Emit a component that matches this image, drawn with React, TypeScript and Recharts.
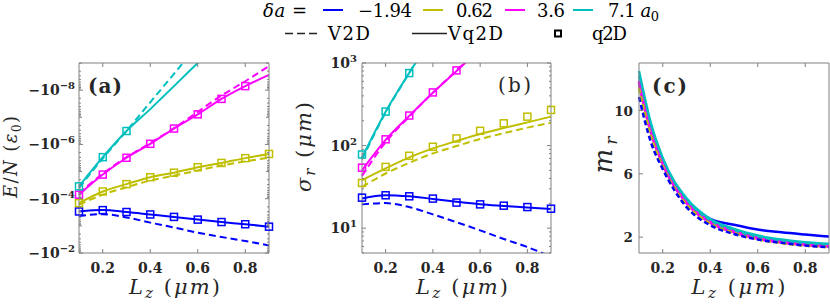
import React from 'react';
import { LineChart, Line, XAxis, YAxis } from 'recharts';

const BLUE = '#0000FF';
const YEL = '#BFBF00';
const MAG = '#FF00FF';
const CYA = '#00BFBF';
const AX = '#808080';
const TXT = '#262626';

// Lz (um)
const LZ = [0.1, 0.2, 0.3, 0.4, 0.5, 0.6, 0.7, 0.8, 0.9];
const LZ_C = [0.1, 0.15, 0.2, 0.3, 0.4, 0.5, 0.6, 0.7, 0.8, 0.9];
const X_TICKS = [0.2, 0.4, 0.6, 0.8];
const X_TICK_LABELS = ['0.2', '0.4', '0.6', '0.8'];

// (a) E/N (eps0)
const A_BLUE_V2D = [-4.3e-4, -3.7e-4, -4.9e-4, -7.6e-4, -1.15e-3, -1.78e-3, -2.57e-3, -3.63e-3, -5.25e-3];
const A_BLUE_VQ2D = [-2.95e-4, -2.63e-4, -3.09e-4, -3.8e-4, -4.68e-4, -5.89e-4, -7.24e-4, -8.71e-4, -1.07e-3];
const A_BLUE_Q2D = [-2.95e-4, -2.63e-4, -3.09e-4, -3.8e-4, -4.68e-4, -5.89e-4, -7.24e-4, -8.71e-4, -1.07e-3];
const A_YEL_V2D = [-1.66e-4, -7.1e-5, -3.8e-5, -2.14e-5, -1.41e-5, -9.1e-6, -6.0e-6, -4.2e-6, -3.1e-6];
const A_YEL_VQ2D = [-1.45e-4, -5.4e-5, -2.9e-5, -1.62e-5, -1.1e-5, -6.9e-6, -4.8e-6, -3.2e-6, -2.24e-6];
const A_YEL_Q2D = [-1.45e-4, -5.4e-5, -2.9e-5, -1.62e-5, -1.1e-5, -6.9e-6, -4.8e-6, -3.2e-6, -2.24e-6];
const A_MAG_V2D = [-6.3e-5, -1.2e-5, -2.95e-6, -8.9e-7, -2.5e-7, -6.3e-8, -1.58e-8, -4.7e-9, -1.29e-9];
const A_MAG_VQ2D = [-7.1e-5, -1.29e-5, -3.1e-6, -9.5e-7, -2.6e-7, -7.8e-8, -2.1e-8, -7.1e-9, -2.75e-9];
const A_MAG_Q2D = [-7.1e-5, -1.29e-5, -3.1e-6, -9.5e-7, -2.6e-7, -7.8e-8, -2.1e-8, -7.1e-9, null];
const A_CYA_V2D = [-4.0e-5, -3.3e-6, -3.2e-7, -2.8e-8, -2.5e-9, -2.2e-10, null, null, null];
const A_CYA_VQ2D = [-3.5e-5, -2.95e-6, -3.2e-7, -5.0e-8, -7.1e-9, -1.0e-9, -1.6e-10, null, null];
const A_CYA_Q2D = [-3.5e-5, -2.95e-6, -3.2e-7, null, null, null, null, null, null];
const A_Y_TICKS = [1e-8, 1e-6, 1e-4, 1e-2];
const A_Y_TICK_EXP = ['\u22128', '\u22126', '\u22124', '\u22122'];
const A_DECADES = [1e-9, 1e-8, 1e-7, 1e-6, 1e-5, 1e-4, 1e-3, 1e-2];

// (b) sigma_r (um)
const B_BLUE_V2D = [19.4, 20.1, 18.0, 14.7, 11.8, 9.4, 7.4, 5.9, 4.5];
const B_BLUE_VQ2D = [22.9, 25.1, 24.3, 22.6, 20.9, 19.5, 18.6, 17.8, 17.0];
const B_BLUE_Q2D = [23.4, 25.0, 24.3, 22.8, 20.4, 19.4, 18.7, 18.0, 17.2];
const B_YEL_V2D = [31.6, 45.9, 61.8, 80.4, 98.6, 120, 141, 165, 189];
const B_YEL_VQ2D = [38, 52.8, 71.8, 92.5, 113.5, 138, 163, 191, 224];
const B_YEL_Q2D = [35.3, 55.2, 75.2, 96.8, 122, 151, 186, 224, 270];
const B_MAG_V2D = [43, 110, 224, 437, 813, 1510, null, null, null];
const B_MAG_VQ2D = [50, 117, 229, 437, 800, 1480, null, null, null];
const B_MAG_Q2D = [54, 119, 231, 440, 813, null, null, null, null];
const B_CYA_V2D = [68, 251, 759, 2240, null, null, null, null, null];
const B_CYA_VQ2D = [72, 257, 759, 2090, null, null, null, null, null];
const B_CYA_Q2D = [78, 258, 755, null, null, null, null, null, null];
const B_Y_TICKS = [10, 100, 1000];
const B_Y_TICK_EXP = ['1', '2', '3'];
const B_DECADES = [1, 10, 100, 1000];

// (c) m_r
const C_BLUE_V2D = [10.85, 8.0, 6.3, 3.9, 2.75, 2.2, 1.85, 1.64, 1.47, 1.37];
const C_BLUE_VQ2D = [11.8, 8.7, 6.7, 4.2, 3.15, 2.78, 2.48, 2.31, 2.17, 2.04];
const C_YEL_V2D = [11.4, 8.4, 6.45, 4.05, 2.85, 2.26, 1.86, 1.62, 1.46, 1.37];
const C_YEL_VQ2D = [11.6, 8.6, 6.6, 4.2, 2.95, 2.35, 1.95, 1.7, 1.52, 1.42];
const C_MAG_V2D = [11.7, 8.6, 6.6, 4.15, 2.9, 2.3, 1.9, 1.66, 1.5, 1.4];
const C_MAG_VQ2D = [11.9, 8.8, 6.8, 4.3, 3.0, 2.4, 1.98, 1.74, 1.56, 1.46];
const C_CYA_V2D = [12.2, 9.0, 6.85, 4.35, 3.05, 2.44, 2.02, 1.78, 1.62, 1.52];
const C_CYA_VQ2D = [12.5, 9.2, 7.0, 4.45, 3.15, 2.52, 2.1, 1.85, 1.68, 1.58];
const C_Y_TICKS = [2, 6, 10];
const C_Y_TICK_LABELS = ['2', '6', '10'];

// legend
const DELTA_A = ['\u22121.94', '0.62', '3.6', '7.1'];
const DELTA_COLORS = [BLUE, YEL, MAG, CYA];

const SERIF = "'DejaVu Serif', serif";
const TICK_FONT: any = { fontFamily: SERIF, fontWeight: 700, fontSize: 14, fill: TXT };

const neg = (v: number | null) => (v == null ? null : -v);

function withMinors(decades: number[], lo: number, hi: number) {
  const out: number[] = [];
  decades.forEach((d) => {
    if (d >= lo && d <= hi) out.push(d);
    for (let m = 2; m <= 9; m++) {
      const v = m * d;
      if (v >= lo && v <= hi) out.push(v);
    }
  });
  return out.sort((p, q) => p - q);
}

const A_TICKS_ALL = withMinors(A_DECADES, 1e-9, 1e-2);
const B_TICKS_ALL = withMinors(B_DECADES, 5, 1000);

const rowsA = LZ.map((lz, i) => ({
  lz,
  bD: neg(A_BLUE_V2D[i]), bS: neg(A_BLUE_VQ2D[i]), bQ: neg(A_BLUE_Q2D[i]),
  yD: neg(A_YEL_V2D[i]), yS: neg(A_YEL_VQ2D[i]), yQ: neg(A_YEL_Q2D[i]),
  mD: neg(A_MAG_V2D[i]), mS: neg(A_MAG_VQ2D[i]), mQ: neg(A_MAG_Q2D[i]),
  cD: neg(A_CYA_V2D[i]), cS: neg(A_CYA_VQ2D[i]), cQ: neg(A_CYA_Q2D[i]),
}));

const rowsB = LZ.map((lz, i) => ({
  lz,
  bD: B_BLUE_V2D[i], bS: B_BLUE_VQ2D[i], bQ: B_BLUE_Q2D[i],
  yD: B_YEL_V2D[i], yS: B_YEL_VQ2D[i], yQ: B_YEL_Q2D[i],
  mD: B_MAG_V2D[i], mS: B_MAG_VQ2D[i], mQ: B_MAG_Q2D[i],
  cD: B_CYA_V2D[i], cS: B_CYA_VQ2D[i], cQ: B_CYA_Q2D[i],
}));

const rowsC = LZ_C.map((lz, i) => ({
  lz,
  bD: C_BLUE_V2D[i], bS: C_BLUE_VQ2D[i],
  yD: C_YEL_V2D[i], yS: C_YEL_VQ2D[i],
  mD: C_MAG_V2D[i], mS: C_MAG_VQ2D[i],
  cD: C_CYA_V2D[i], cS: C_CYA_VQ2D[i],
}));

const SERIES_AB = [
  { key: 'bD', color: BLUE, kind: 'dash' }, { key: 'bS', color: BLUE, kind: 'solid' }, { key: 'bQ', color: BLUE, kind: 'sq' },
  { key: 'yD', color: YEL, kind: 'dash' }, { key: 'yS', color: YEL, kind: 'solid' }, { key: 'yQ', color: YEL, kind: 'sq' },
  { key: 'mD', color: MAG, kind: 'dash' }, { key: 'mS', color: MAG, kind: 'solid' }, { key: 'mQ', color: MAG, kind: 'sq' },
  { key: 'cD', color: CYA, kind: 'dash' }, { key: 'cS', color: CYA, kind: 'solid' }, { key: 'cQ', color: CYA, kind: 'sq' },
];

const SERIES_C = [
  { key: 'bS', color: BLUE, kind: 'solid' }, { key: 'yS', color: YEL, kind: 'solid' },
  { key: 'mS', color: MAG, kind: 'solid' }, { key: 'cS', color: CYA, kind: 'solid' },
  { key: 'cD', color: CYA, kind: 'dash' }, { key: 'mD', color: MAG, kind: 'dash' },
  { key: 'yD', color: YEL, kind: 'dash' }, { key: 'bD', color: BLUE, kind: 'dash' },
];

const squareDot = (color: string) => (p: any) => {
  if (p.cx == null || p.cy == null || p.value == null || Number.isNaN(p.cy)) {
    return <g key={`e${p.index}`} />;
  }
  return (
    <rect key={`s${p.index}`} x={p.cx - 3.5} y={p.cy - 3.5} width={7} height={7}
      fill="none" stroke={color} strokeWidth={1.5} />
  );
};

function renderSeries(series: any[], lineWidth: number, dash: string) {
  return series.map((s) =>
    s.kind === 'sq' ? (
      <Line key={s.key} xAxisId="B" yAxisId="R" dataKey={s.key} stroke="none"
        dot={squareDot(s.color)} activeDot={false} isAnimationActive={false} legendType="none" />
    ) : (
      <Line key={s.key} xAxisId="B" yAxisId="L" type="monotone" dataKey={s.key}
        stroke={s.color} strokeWidth={lineWidth}
        strokeDasharray={s.kind === 'dash' ? dash : undefined}
        dot={false} activeDot={false} isAnimationActive={false} connectNulls={false} />
    )
  );
}

const bottomTick = (p: any) => {
  const idx = X_TICKS.indexOf(p.payload.value);
  return (
    <g>
      <line x1={p.x} y1={p.y} x2={p.x} y2={p.y - 4} stroke={AX} strokeWidth={1} />
      <text x={p.x} y={p.y + 20} textAnchor="middle" {...TICK_FONT}>{X_TICK_LABELS[idx]}</text>
    </g>
  );
};
const topTick = (p: any) => (
  <line x1={p.x} y1={p.y} x2={p.x} y2={p.y + 4} stroke={AX} strokeWidth={1} />
);

function yTick(side: 'left' | 'right', majors: number[], decades: number[], label?: (x: number, y: number, i: number) => any) {
  return (p: any) => {
    const v = p.payload.value;
    const mi = majors.indexOf(v);
    const len = mi >= 0 ? 4 : decades.indexOf(v) >= 0 ? 3 : 2;
    const dir = side === 'left' ? 1 : -1;
    return (
      <g>
        <line x1={p.x} y1={p.y} x2={p.x + dir * len} y2={p.y} stroke={AX} strokeWidth={1} />
        {side === 'left' && mi >= 0 && label ? label(p.x, p.y, mi) : null}
      </g>
    );
  };
}

const aLabel = (x: number, y: number, i: number) => (
  <text x={x - 4} y={y + 5} textAnchor="end" {...TICK_FONT}>
    {'\u221210'}<tspan dy={-6} fontSize={10}>{A_Y_TICK_EXP[i]}</tspan>
  </text>
);
const bLabel = (x: number, y: number, i: number) => (
  <text x={x - 5} y={y + 5} textAnchor="end" {...TICK_FONT}>
    {'10'}<tspan dy={-6} fontSize={10}>{B_Y_TICK_EXP[i]}</tspan>
  </text>
);
const cLabel = (x: number, y: number, i: number) => (
  <text x={x - 6} y={y + 5} textAnchor="end" {...TICK_FONT} fontSize={13.5}>{C_Y_TICK_LABELS[i]}</text>
);

function xAxes() {
  return [
    <XAxis key="xb" xAxisId="B" dataKey="lz" type="number" domain={[0.1, 0.9]} ticks={X_TICKS}
      interval={0} height={54} tickSize={0} tickMargin={0} tickLine={false}
      axisLine={{ stroke: AX, strokeWidth: 1 }} tick={bottomTick} />,
    <XAxis key="xt" xAxisId="T" orientation="top" dataKey="lz" type="number" domain={[0.1, 0.9]}
      ticks={X_TICKS} interval={0} height={1} tickSize={0} tickMargin={0} tickLine={false}
      axisLine={{ stroke: AX, strokeWidth: 1 }} tick={topTick} />,
  ];
}

function yAxes(cfg: any) {
  const common = {
    type: 'number' as const, scale: cfg.scale, domain: cfg.domain, ticks: cfg.ticks,
    interval: 0, tickSize: 0, tickMargin: 0, tickLine: false,
    axisLine: { stroke: AX, strokeWidth: 1 }, reversed: cfg.reversed,
  };
  return [
    <YAxis key="yl" yAxisId="L" {...common} allowDataOverflow width={cfg.width}
      tick={yTick('left', cfg.majors, cfg.decades, cfg.label)} />,
    <YAxis key="yr" yAxisId="R" orientation="right" {...common} width={1}
      tick={yTick('right', cfg.majors, cfg.decades)} />,
  ];
}

function Overlay() {
  const xLabel = (cx: number, len: number) => (
    <text x={cx} y={294} textAnchor="middle" fontFamily={SERIF} fontSize={21} fill={TXT}
      textLength={len} lengthAdjust="spacing">
      <tspan fontStyle="italic">L</tspan>
      <tspan fontStyle="italic" fontSize={15} dy={4}>z</tspan>
      <tspan dy={-4}>{' ('}</tspan>
      <tspan fontStyle="italic">{'\u03bcm'}</tspan>
      <tspan>)</tspan>
    </text>
  );
  const legX = [323, 423, 505, 573];
  const legTextX = [358, 456, 537, 608];
  const legTextLen = [54, 37, 28, 51];
  return (
    <svg width={830} height={307} style={{ position: 'absolute', left: 0, top: 0, pointerEvents: 'none' }}>
      {/* legend row 1 */}
      <g fontFamily={SERIF} fontSize={18} fill="#000">
        <text x={263} y={17} textLength={44} lengthAdjust="spacing">
          <tspan fontStyle="italic">{'\u03b4a'}</tspan>{' ='}
        </text>
        {DELTA_A.map((t, i) => (
          <g key={t}>
            <line x1={legX[i]} x2={legX[i] + 20} y1={10} y2={10} stroke={DELTA_COLORS[i]} strokeWidth={2} />
            <text x={legTextX[i]} y={17} textLength={legTextLen[i]} lengthAdjust="spacing">
              {t}
              {i === 3 ? (
                <>
                  <tspan>{' '}</tspan>
                  <tspan fontStyle="italic">a</tspan>
                  <tspan fontSize={13} dy={4}>0</tspan>
                </>
              ) : null}
            </text>
          </g>
        ))}
        {/* legend row 2 */}
        <line x1={285} x2={317} y1={33.5} y2={33.5} stroke="#222" strokeWidth={1.5} strokeDasharray="8 4" />
        <text x={328} y={40} textLength={42} lengthAdjust="spacing">V2D</text>
        <line x1={412} x2={447} y1={33.5} y2={33.5} stroke="#222" strokeWidth={1.5} />
        <text x={448} y={40} textLength={55} lengthAdjust="spacing">Vq2D</text>
        <rect x={555} y={30.5} width={6} height={6} fill="none" stroke="#000" strokeWidth={2} />
        <text x={592} y={40} textLength={35} lengthAdjust="spacing">q2D</text>
      </g>

      {/* panel labels */}
      <text x={88} y={93} fontFamily={SERIF} fontWeight={700} fontSize={20} fill={TXT}
        textLength={34} lengthAdjust="spacing">(a)</text>
      <text x={498} y={91.5} fontFamily={SERIF} fontSize={20} fill={TXT}
        textLength={33} lengthAdjust="spacing">(b)</text>
      <text x={652} y={93} fontFamily={SERIF} fontWeight={700} fontSize={20} fill={TXT}
        textLength={35} lengthAdjust="spacing">(c)</text>

      {/* x labels */}
      {xLabel(174.5, 91)}
      {xLabel(462, 92)}
      {xLabel(738.5, 94)}

      {/* y labels */}
      <text transform="translate(17,157) rotate(-90)" textAnchor="middle" fontFamily={SERIF}
        fontSize={18} fill={TXT} textLength={82} lengthAdjust="spacing">
        <tspan fontStyle="italic">E</tspan>
        <tspan>/</tspan>
        <tspan fontStyle="italic">N</tspan>
        <tspan>{' ('}</tspan>
        <tspan fontStyle="italic">{'\u03b5'}</tspan>
        <tspan fontSize={12} dy={4}>0</tspan>
        <tspan dy={-4}>)</tspan>
      </text>
      <text transform="translate(311,147) rotate(-90)" textAnchor="middle" fontFamily={SERIF}
        fontSize={21} fill={TXT} textLength={90} lengthAdjust="spacing">
        <tspan fontStyle="italic">{'\u03c3'}</tspan>
        <tspan fontStyle="italic" fontSize={15} dy={4}>r</tspan>
        <tspan dy={-4}>{' ('}</tspan>
        <tspan fontStyle="italic">{'\u03bcm'}</tspan>
        <tspan>)</tspan>
      </text>
      <text transform="translate(612,155) rotate(-90)" textAnchor="middle" fontFamily={SERIF}
        fontSize={26} fill={TXT} textLength={37} lengthAdjust="spacing">
        <tspan fontStyle="italic">m</tspan>
        <tspan fontStyle="italic" fontSize={17} dy={5}>r</tspan>
      </text>
    </svg>
  );
}

export default function App() {
  return (
    <div style={{ position: 'absolute', left: 0, top: 0, width: 830, height: 307, background: '#fff', overflow: 'hidden' }}>
      <div style={{ position: 'absolute', left: 0, top: 0 }}>
        <LineChart width={280} height={307} data={rowsA} margin={{ top: 62, right: 10, bottom: 0, left: 0 }}>
          {xAxes()}
          {yAxes({
            scale: 'log', domain: [1e-9, 1e-2], ticks: A_TICKS_ALL, reversed: true, width: 79,
            majors: A_Y_TICKS, decades: A_DECADES, label: aLabel,
          })}
          {renderSeries(SERIES_AB, 2, '7 4')}
        </LineChart>
      </div>
      <div style={{ position: 'absolute', left: 290, top: 0 }}>
        <LineChart width={280} height={307} data={rowsB} margin={{ top: 62, right: 18, bottom: 0, left: 0 }}>
          {xAxes()}
          {yAxes({
            scale: 'log', domain: [5, 1000], ticks: B_TICKS_ALL, reversed: false, width: 72,
            majors: B_Y_TICKS, decades: B_DECADES, label: bLabel,
          })}
          {renderSeries(SERIES_AB, 2, '7 4')}
        </LineChart>
      </div>
      <div style={{ position: 'absolute', left: 570, top: 0 }}>
        <LineChart width={260} height={307} data={rowsC} margin={{ top: 62, right: 0, bottom: 0, left: 0 }}>
          {xAxes()}
          {yAxes({
            scale: 'linear', domain: [1, 13], ticks: C_Y_TICKS, reversed: false, width: 69,
            majors: C_Y_TICKS, decades: [], label: cLabel,
          })}
          {renderSeries(SERIES_C, 2.5, '5 3')}
        </LineChart>
      </div>
      <Overlay />
    </div>
  );
}
